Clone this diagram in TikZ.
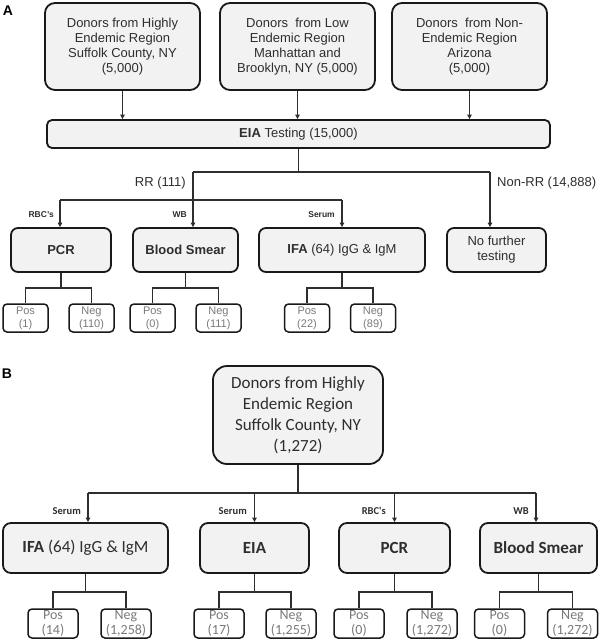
\documentclass[tikz,border=0pt]{standalone}
\usepackage{fontspec}
\setmainfont{Liberation Sans}
\newfontfamily\calfont{Carlito}
\usetikzlibrary{arrows.meta}

\definecolor{boxfill}{HTML}{F2F2F2}
\definecolor{inkgray}{HTML}{2E2E2E}
\definecolor{resgray}{HTML}{7A7A7A}

\tikzset{
  outline/.style={draw=black!90, line width=1.8pt, fill=boxfill, align=center, inner sep=0pt, text=inkgray},
  donorbox/.style={outline, rounded corners=10pt, minimum width=155pt, minimum height=87pt, font=\fontsize{13}{15}\selectfont},
  eiabox/.style={outline, rounded corners=5pt, minimum width=503pt, minimum height=28pt, font=\fontsize{13}{15}\selectfont},
  testbox/.style={outline, rounded corners=7pt, minimum height=44pt, font=\fontsize{13}{15}\selectfont},
  resbox/.style={draw=black!90, line width=1.5pt, fill=white, rounded corners=4pt, minimum width=45pt, minimum height=28pt, inner sep=0pt, align=center, text=resgray, font=\fontsize{11}{13}\selectfont},
  topboxB/.style={outline, rounded corners=14pt, minimum width=170pt, minimum height=98pt, font=\calfont\fontsize{17}{21}\selectfont},
  testboxB/.style={outline, rounded corners=8pt, minimum height=50pt, font=\calfont\fontsize{17}{21}\selectfont},
  resboxB/.style={resbox, minimum width=50pt, minimum height=29pt, font=\calfont\fontsize{14}{15}\selectfont},
  wire/.style={line width=1.2pt, draw=inkgray},
  arr/.style={wire, -{Triangle[length=4.5pt,width=4.5pt]}},
  count/.style={inner sep=0pt, text=inkgray, font=\fontsize{13}{15}\selectfont},
  tag/.style={inner sep=0pt, anchor=east, text=inkgray, font=\bfseries\fontsize{8.5}{9}\selectfont},
  tagB/.style={tag, font=\calfont\bfseries\fontsize{10.5}{11}\selectfont},
  panellabel/.style={inner sep=0pt, font=\bfseries\fontsize{14}{15}\selectfont}
}

\begin{document}
\begin{tikzpicture}[x=1pt,y=-1pt]
\useasboundingbox (0,0) rectangle (600,641);

% ---- panel A
\node[panellabel] (labA) at (8,11) {A};
\node[donorbox] (donHigh) at (122.5,46.5) {Donors from Highly\\Endemic Region\\Suffolk County, NY\\(5,000)};
\node[donorbox] (donLow) at (297.5,46.5) {Donors\ \ from Low\\Endemic Region\\Manhattan and\\Brooklyn, NY (5,000)};
\node[donorbox] (donNon) at (469.5,46.5) {Donors\ \ from Non-\\Endemic Region\\Arizona\\(5,000)};
\node[eiabox] (eia) at (298.5,134) {\textbf{EIA} Testing (15,000)};

\draw[arr] (donHigh) -- (donHigh |- eia.north);
\draw[arr] (donLow) -- (donLow |- eia.north);
\draw[arr] (donNon) -- (donNon |- eia.north);

\coordinate (rrA) at (193,172);
\coordinate (nrrA) at (490,172);
\coordinate (rbcA) at (60,200);
\coordinate (serA) at (342,200);

\node[testbox, minimum width=100pt] (pcrA) at (61,250) {\textbf{PCR}};
\node[testbox, minimum width=105pt] (bsA) at (185.5,250) {\textbf{Blood Smear}};
\node[testbox, minimum width=166pt] (ifaA) at (342,250) {\textbf{IFA} (64) IgG \& IgM};
\node[testbox, minimum width=99pt] (nftA) at (496.5,250) {No further\\testing};

\draw[wire] (eia) -- (eia.south |- rrA);
\draw[wire] (rrA) -- (nrrA);
\draw[arr] (nrrA) -- (nrrA |- nftA.north);
\draw[arr] (rrA) -- (rrA |- bsA.north);
\draw[wire] (rbcA) -- (serA);
\draw[arr] (rbcA) -- (rbcA |- pcrA.north);
\draw[arr] (serA) -- (serA |- ifaA.north);

\node[count, anchor=east] (rrLbl) at (186,183) {RR (111)};
\node[count, anchor=west] (nrrLbl) at (497,183) {Non-RR (14,888)};
\node[tag] (rbcLbl) at (54,215) {RBC's};
\node[tag] (wbLbl) at (187,215) {WB};
\node[tag] (serLbl) at (335,215) {Serum};

\node[resbox] (pcrA-pos) at (25.5,318) {Pos\\(1)};
\node[resbox] (pcrA-neg) at (91.5,318) {Neg\\(110)};
\node[resbox] (bsA-pos) at (152.5,318) {Pos\\(0)};
\node[resbox] (bsA-neg) at (218.5,318) {Neg\\(111)};
\node[resbox] (ifaA-pos) at (307,318) {Pos\\(22)};
\node[resbox] (ifaA-neg) at (373,318) {Neg\\(89)};

\foreach \t in {pcrA,bsA,ifaA}{
  \draw[wire] (\t.south) -- ++(0,15) coordinate (\t-fork);
  \draw[wire] (\t-pos.north) |- (\t-fork) -| (\t-neg.north);
}

% ---- panel B
\node[panellabel] (labB) at (7,374) {B};
\node[topboxB] (donB) at (298,415) {Donors from Highly\\Endemic Region\\Suffolk County, NY\\(1,272)};

\coordinate (busL) at (88,493);
\coordinate (busR) at (536,493);

\node[testboxB, minimum width=165pt] (ifaB) at (85.5,548) {\textbf{IFA} (64) IgG \& IgM};
\node[testboxB, minimum width=109pt] (eiaB) at (254.5,548) {\textbf{EIA}};
\node[testboxB, minimum width=111pt] (pcrB) at (394.5,548) {\textbf{PCR}};
\node[testboxB, minimum width=117pt] (bsB) at (538.5,548) {\textbf{Blood Smear}};

\draw[wire] (donB) -- (donB.south |- busL);
\draw[wire] (busL) -- (busR);
\draw[arr] (busL) -- (busL |- ifaB.north);
\draw[arr] (eiaB.north |- busL) -- (eiaB.north);
\draw[arr] (pcrB.north |- busL) -- (pcrB.north);
\draw[arr] (busR) -- (busR |- bsB.north);

\node[tagB] (serLblB) at (81,511) {Serum};
\node[tagB] (serLblB2) at (247,511) {Serum};
\node[tagB] (rbcLblB) at (386,511) {RBC's};
\node[tagB] (wbLblB) at (529,511) {WB};

\node[resboxB] (ifaB-pos) at (53,623.5) {Pos\\(14)};
\node[resboxB] (ifaB-neg) at (126,623.5) {Neg\\(1,258)};
\node[resboxB] (eiaB-pos) at (219,623.5) {Pos\\(17)};
\node[resboxB] (eiaB-neg) at (291,623.5) {Neg\\(1,255)};
\node[resboxB] (pcrB-pos) at (359,623.5) {Pos\\(0)};
\node[resboxB] (pcrB-neg) at (432,623.5) {Neg\\(1,272)};
\node[resboxB] (bsB-pos) at (499.5,623.5) {Pos\\(0)};
\node[resboxB] (bsB-neg) at (572.5,623.5) {Neg\\(1,272)};

\foreach \t in {ifaB,eiaB,pcrB,bsB}{
  \draw[wire] (\t.south) -- ++(0,18) coordinate (\t-fork);
  \draw[wire] (\t-pos.north) |- (\t-fork) -| (\t-neg.north);
}
\end{tikzpicture}
\end{document}
